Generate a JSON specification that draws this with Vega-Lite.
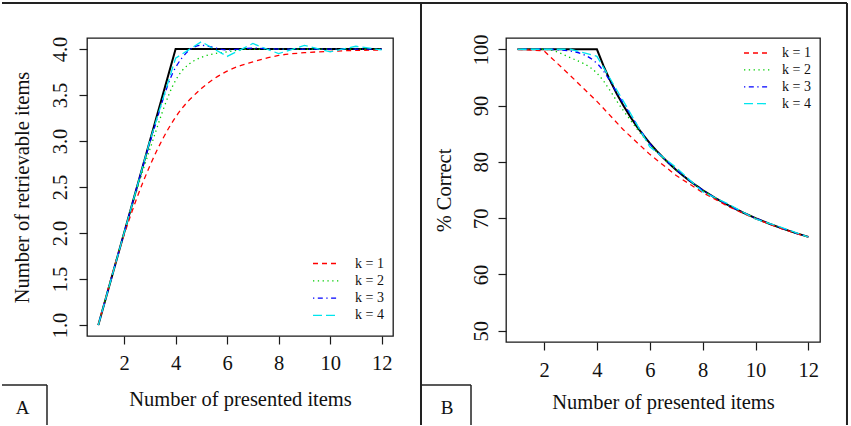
{
  "$schema": "https://vega.github.io/schema/vega-lite/v6.json",
  "padding": {"left": 0, "top": 1, "right": 0, "bottom": 0},
  "autosize": {"type": "pad"},
  "background": "white",
  "spacing": 113,
  "bounds": "flush",
  "config": {
    "view": {"stroke": "#1a1a1a", "strokeWidth": 1.3},
    "font": "Liberation Serif",
    "axis": {
      "labelFont": "Liberation Serif", "titleFont": "Liberation Serif",
      "labelFontSize": 20.5, "titleFontSize": 20.5, "titleFontWeight": "normal",
      "labelColor": "#111", "titleColor": "#111", "tickColor": "#1a1a1a",
      "tickSize": 8, "tickWidth": 1.2, "domain": false, "grid": false,
      "labelFlush": false, "labelOverlap": false
    },
    "legend": {
      "labelFont": "Liberation Serif", "labelFontSize": 14, "labelColor": "#111",
      "symbolType": "M-2,0H2", "symbolSize": 169, "symbolStrokeWidth": 1.3,
      "padding": 0
    }
  },
  "datasets": {
    "blackA": [{"n": 1, "R": 1}, {"n": 4, "R": 4}, {"n": 12, "R": 4}],
    "curvesA": [
      {"n": 1, "R": 1, "k": "k = 1"}, {"n": 2, "R": 1.98, "k": "k = 1"}, {"n": 3, "R": 2.73, "k": "k = 1"}, {"n": 4, "R": 3.26, "k": "k = 1"}, {"n": 5, "R": 3.57, "k": "k = 1"}, {"n": 6, "R": 3.76, "k": "k = 1"}, {"n": 7, "R": 3.86, "k": "k = 1"}, {"n": 8, "R": 3.93, "k": "k = 1"}, {"n": 9, "R": 3.96, "k": "k = 1"}, {"n": 10, "R": 3.975, "k": "k = 1"}, {"n": 11, "R": 3.985, "k": "k = 1"}, {"n": 12, "R": 3.99, "k": "k = 1"},
      {"n": 1, "R": 1, "k": "k = 2"}, {"n": 2, "R": 2.0, "k": "k = 2"}, {"n": 3, "R": 2.91, "k": "k = 2"}, {"n": 4, "R": 3.66, "k": "k = 2"}, {"n": 5, "R": 3.91, "k": "k = 2"}, {"n": 6, "R": 3.97, "k": "k = 2"}, {"n": 7, "R": 4.0, "k": "k = 2"}, {"n": 8, "R": 4.0, "k": "k = 2"}, {"n": 9, "R": 4.0, "k": "k = 2"}, {"n": 10, "R": 4.0, "k": "k = 2"}, {"n": 11, "R": 4.0, "k": "k = 2"}, {"n": 12, "R": 4.0, "k": "k = 2"},
      {"n": 1, "R": 1, "k": "k = 3"}, {"n": 2, "R": 2.0, "k": "k = 3"}, {"n": 3, "R": 2.98, "k": "k = 3"}, {"n": 4, "R": 3.8, "k": "k = 3"}, {"n": 5, "R": 4.04, "k": "k = 3"}, {"n": 6, "R": 3.99, "k": "k = 3"}, {"n": 7, "R": 4.01, "k": "k = 3"}, {"n": 8, "R": 4.0, "k": "k = 3"}, {"n": 9, "R": 4.0, "k": "k = 3"}, {"n": 10, "R": 4.0, "k": "k = 3"}, {"n": 11, "R": 4.0, "k": "k = 3"}, {"n": 12, "R": 4.0, "k": "k = 3"},
      {"n": 1, "R": 1, "k": "k = 4"}, {"n": 2, "R": 2.0, "k": "k = 4"}, {"n": 3, "R": 3.0, "k": "k = 4"}, {"n": 4, "R": 3.9, "k": "k = 4"}, {"n": 5, "R": 4.08, "k": "k = 4"}, {"n": 6, "R": 3.92, "k": "k = 4"}, {"n": 7, "R": 4.06, "k": "k = 4"}, {"n": 8, "R": 3.95, "k": "k = 4"}, {"n": 9, "R": 4.04, "k": "k = 4"}, {"n": 10, "R": 3.97, "k": "k = 4"}, {"n": 11, "R": 4.03, "k": "k = 4"}, {"n": 12, "R": 3.99, "k": "k = 4"}
    ],
    "blackB": [
      {"n": 1, "pc": 100}, {"n": 4, "pc": 100}, {"n": 4.25, "pc": 97.06}, {"n": 4.5, "pc": 94.44}, {"n": 4.75, "pc": 92.11}, {"n": 5, "pc": 90}, {"n": 5.25, "pc": 88.1}, {"n": 5.5, "pc": 86.36}, {"n": 5.75, "pc": 84.78}, {"n": 6, "pc": 83.33}, {"n": 6.25, "pc": 82.0}, {"n": 6.5, "pc": 80.77}, {"n": 6.75, "pc": 79.63}, {"n": 7, "pc": 78.57}, {"n": 7.25, "pc": 77.59}, {"n": 7.5, "pc": 76.67}, {"n": 7.75, "pc": 75.81}, {"n": 8, "pc": 75}, {"n": 8.5, "pc": 73.53}, {"n": 9, "pc": 72.22}, {"n": 9.5, "pc": 71.05}, {"n": 10, "pc": 70}, {"n": 10.5, "pc": 69.05}, {"n": 11, "pc": 68.18}, {"n": 11.5, "pc": 67.39}, {"n": 12, "pc": 66.67}
    ],
    "curvesB": [
      {"n": 1, "pc": 100, "k": "k = 1"}, {"n": 2, "pc": 99.7, "k": "k = 1"}, {"n": 3, "pc": 95.3, "k": "k = 1"}, {"n": 4, "pc": 90.75, "k": "k = 1"}, {"n": 5, "pc": 85.7, "k": "k = 1"}, {"n": 6, "pc": 81.33, "k": "k = 1"}, {"n": 7, "pc": 77.57, "k": "k = 1"}, {"n": 8, "pc": 74.56, "k": "k = 1"}, {"n": 9, "pc": 72.0, "k": "k = 1"}, {"n": 10, "pc": 69.88, "k": "k = 1"}, {"n": 11, "pc": 68.11, "k": "k = 1"}, {"n": 12, "pc": 66.63, "k": "k = 1"},
      {"n": 1, "pc": 100, "k": "k = 2"}, {"n": 2, "pc": 100, "k": "k = 2"}, {"n": 3, "pc": 98.5, "k": "k = 2"}, {"n": 4, "pc": 95.75, "k": "k = 2"}, {"n": 5, "pc": 89.1, "k": "k = 2"}, {"n": 6, "pc": 83.08, "k": "k = 2"}, {"n": 7, "pc": 78.57, "k": "k = 2"}, {"n": 8, "pc": 75, "k": "k = 2"}, {"n": 9, "pc": 72.22, "k": "k = 2"}, {"n": 10, "pc": 70, "k": "k = 2"}, {"n": 11, "pc": 68.18, "k": "k = 2"}, {"n": 12, "pc": 66.67, "k": "k = 2"},
      {"n": 1, "pc": 100, "k": "k = 3"}, {"n": 2, "pc": 100, "k": "k = 3"}, {"n": 3, "pc": 99.67, "k": "k = 3"}, {"n": 4, "pc": 97.5, "k": "k = 3"}, {"n": 5, "pc": 90.4, "k": "k = 3"}, {"n": 6, "pc": 83.25, "k": "k = 3"}, {"n": 7, "pc": 78.64, "k": "k = 3"}, {"n": 8, "pc": 75, "k": "k = 3"}, {"n": 9, "pc": 72.22, "k": "k = 3"}, {"n": 10, "pc": 70, "k": "k = 3"}, {"n": 11, "pc": 68.18, "k": "k = 3"}, {"n": 12, "pc": 66.67, "k": "k = 3"},
      {"n": 1, "pc": 100, "k": "k = 4"}, {"n": 2, "pc": 100, "k": "k = 4"}, {"n": 3, "pc": 100, "k": "k = 4"}, {"n": 4, "pc": 98.75, "k": "k = 4"}, {"n": 5, "pc": 90.8, "k": "k = 4"}, {"n": 6, "pc": 82.67, "k": "k = 4"}, {"n": 7, "pc": 79.0, "k": "k = 4"}, {"n": 8, "pc": 74.69, "k": "k = 4"}, {"n": 9, "pc": 72.44, "k": "k = 4"}, {"n": 10, "pc": 69.85, "k": "k = 4"}, {"n": 11, "pc": 68.32, "k": "k = 4"}, {"n": 12, "pc": 66.63, "k": "k = 4"}
    ]
  },
  "resolve": {"scale": {"color": "independent", "strokeDash": "independent"}, "legend": {"color": "independent", "strokeDash": "independent"}},
  "hconcat": [
    {
      "width": 306, "height": 298,
      "layer": [
        {
          "data": {"name": "blackA"},
          "mark": {"type": "line", "color": "#000", "strokeWidth": 2},
          "encoding": {
            "x": {"field": "n", "type": "quantitative", "scale": {"domain": [0.56, 12.44], "nice": false, "zero": false},
                  "axis": {"values": [2, 4, 6, 8, 10, 12], "title": "Number of presented items", "labelPadding": 9, "titlePadding": 16, "labelAngle": 0}},
            "y": {"field": "R", "type": "quantitative", "scale": {"domain": [0.88, 4.12], "nice": false, "zero": false},
                  "axis": {"values": [1, 1.5, 2, 2.5, 3, 3.5, 4], "format": ".1f", "labelAngle": 270, "labelAlign": "center", "labelBaseline": "alphabetic", "labelPadding": 13, "title": "Number of retrievable items", "titlePadding": 18}}
          }
        },
        {
          "data": {"name": "curvesA"},
          "transform": [{"filter": "datum.k != 'k = 4'"}],
          "mark": {"type": "line", "interpolate": "monotone", "strokeWidth": 1.3},
          "encoding": {
            "x": {"field": "n", "type": "quantitative"},
            "y": {"field": "R", "type": "quantitative"},
            "color": {"field": "k", "type": "nominal", "scale": {"domain": ["k = 1", "k = 2", "k = 3", "k = 4"], "range": ["#FF0000", "#00CD00", "#0000FF", "#00E5EE"]},
                      "legend": {"title": null, "orient": "none", "legendX": 231.5, "legendY": 218, "labelOffset": 21.5, "rowPadding": 2.3}},
            "strokeDash": {"field": "k", "type": "nominal", "scale": {"domain": ["k = 1", "k = 2", "k = 3", "k = 4"], "range": [[5, 4], [1.3, 3.5], [1.3, 3.5, 5, 3.5], [9, 4]]},
                      "legend": {"title": null, "orient": "none", "legendX": 231.5, "legendY": 218, "labelOffset": 21.5, "rowPadding": 2.3}}
          }
        },
        {
          "data": {"name": "curvesA"},
          "transform": [{"filter": "datum.k == 'k = 4'"}],
          "mark": {"type": "line", "interpolate": "linear", "strokeWidth": 1.3},
          "encoding": {
            "x": {"field": "n", "type": "quantitative"},
            "y": {"field": "R", "type": "quantitative"},
            "color": {"field": "k", "type": "nominal"},
            "strokeDash": {"field": "k", "type": "nominal"}
          }
        },
        {
          "data": {"values": [{}]},
          "mark": {"type": "rule", "color": "#222", "strokeWidth": 2},
          "encoding": {"x": {"datum": -2.74, "type": "quantitative"}, "x2": {"datum": 13.527}, "y": {"datum": 4.5005, "type": "quantitative"}}
        },
        {
          "data": {"values": [{}]},
          "mark": {"type": "rule", "color": "#222", "strokeWidth": 2},
          "encoding": {"x": {"datum": 13.527, "type": "quantitative"}, "y": {"datum": 4.5005, "type": "quantitative"}, "y2": {"datum": -0.0877}}
        },
        {
          "data": {"values": [{}]},
          "mark": {"type": "rule", "color": "#222", "strokeWidth": 1.5},
          "encoding": {"x": {"datum": -2.74, "type": "quantitative"}, "x2": {"datum": -0.993}, "y": {"datum": 0.3472, "type": "quantitative"}}
        },
        {
          "data": {"values": [{}]},
          "mark": {"type": "rule", "color": "#222", "strokeWidth": 1.5},
          "encoding": {"x": {"datum": -0.993, "type": "quantitative"}, "y": {"datum": 0.3472, "type": "quantitative"}, "y2": {"datum": -0.0877}}
        },
        {
          "data": {"values": [{}]},
          "mark": {"type": "text", "font": "Liberation Serif", "fontSize": 19, "align": "center", "baseline": "alphabetic", "color": "#111"},
          "encoding": {"x": {"datum": -1.944, "type": "quantitative"}, "y": {"datum": 0.032, "type": "quantitative"}, "text": {"value": "A"}}
        }
      ]
    },
    {
      "width": 314, "height": 304,
      "layer": [
        {
          "data": {"name": "blackB"},
          "mark": {"type": "line", "color": "#000", "strokeWidth": 2},
          "encoding": {
            "x": {"field": "n", "type": "quantitative", "scale": {"domain": [0.56, 12.44], "nice": false, "zero": false},
                  "axis": {"values": [2, 4, 6, 8, 10, 12], "title": "Number of presented items", "labelPadding": 10, "titlePadding": 12, "labelAngle": 0}},
            "y": {"field": "pc", "type": "quantitative", "scale": {"domain": [48, 102], "nice": false, "zero": false},
                  "axis": {"values": [50, 60, 70, 80, 90, 100], "labelAngle": 270, "labelAlign": "center", "labelBaseline": "alphabetic", "labelPadding": 11, "title": "% Correct", "titlePadding": 17}}
          }
        },
        {
          "data": {"name": "curvesB"},
          "transform": [{"filter": "datum.k == 'k = 2' || datum.k == 'k = 3'"}],
          "mark": {"type": "line", "interpolate": "monotone", "strokeWidth": 1.3},
          "encoding": {
            "x": {"field": "n", "type": "quantitative"},
            "y": {"field": "pc", "type": "quantitative"},
            "color": {"field": "k", "type": "nominal", "scale": {"domain": ["k = 1", "k = 2", "k = 3", "k = 4"], "range": ["#FF0000", "#00CD00", "#0000FF", "#00E5EE"]},
                      "legend": {"title": null, "orient": "none", "legendX": 243.5, "legendY": 7.5, "labelOffset": 17.5, "rowPadding": 1.9}},
            "strokeDash": {"field": "k", "type": "nominal", "scale": {"domain": ["k = 1", "k = 2", "k = 3", "k = 4"], "range": [[5, 4], [1.3, 3.5], [1.3, 3.5, 5, 3.5], [9, 4]]},
                      "legend": {"title": null, "orient": "none", "legendX": 243.5, "legendY": 7.5, "labelOffset": 17.5, "rowPadding": 1.9}}
          }
        },
        {
          "data": {"name": "curvesB"},
          "transform": [{"filter": "datum.k == 'k = 1' || datum.k == 'k = 4'"}],
          "mark": {"type": "line", "interpolate": "linear", "strokeWidth": 1.3},
          "encoding": {
            "x": {"field": "n", "type": "quantitative"},
            "y": {"field": "pc", "type": "quantitative"},
            "color": {"field": "k", "type": "nominal"},
            "strokeDash": {"field": "k", "type": "nominal"}
          }
        },
        {
          "data": {"values": [{}]},
          "mark": {"type": "rule", "color": "#222", "strokeWidth": 2},
          "encoding": {"x": {"datum": -2.656, "type": "quantitative"}, "x2": {"datum": 13.461}, "y": {"datum": 108.217, "type": "quantitative"}}
        },
        {
          "data": {"values": [{}]},
          "mark": {"type": "rule", "color": "#222", "strokeWidth": 2},
          "encoding": {"x": {"datum": 13.461, "type": "quantitative"}, "y": {"datum": 108.217, "type": "quantitative"}, "y2": {"datum": 33.256}}
        },
        {
          "data": {"values": [{}]},
          "mark": {"type": "rule", "color": "#222", "strokeWidth": 1.5},
          "encoding": {"x": {"datum": -2.656, "type": "quantitative"}, "x2": {"datum": -0.764}, "y": {"datum": 40.362, "type": "quantitative"}}
        },
        {
          "data": {"values": [{}]},
          "mark": {"type": "rule", "color": "#222", "strokeWidth": 1.5},
          "encoding": {"x": {"datum": -0.764, "type": "quantitative"}, "y": {"datum": 40.362, "type": "quantitative"}, "y2": {"datum": 33.256}}
        },
        {
          "data": {"values": [{}]},
          "mark": {"type": "text", "font": "Liberation Serif", "fontSize": 19, "align": "center", "baseline": "alphabetic", "color": "#111"},
          "encoding": {"x": {"datum": -1.672, "type": "quantitative"}, "y": {"datum": 35.21, "type": "quantitative"}, "text": {"value": "B"}}
        }
      ]
    }
  ]
}
